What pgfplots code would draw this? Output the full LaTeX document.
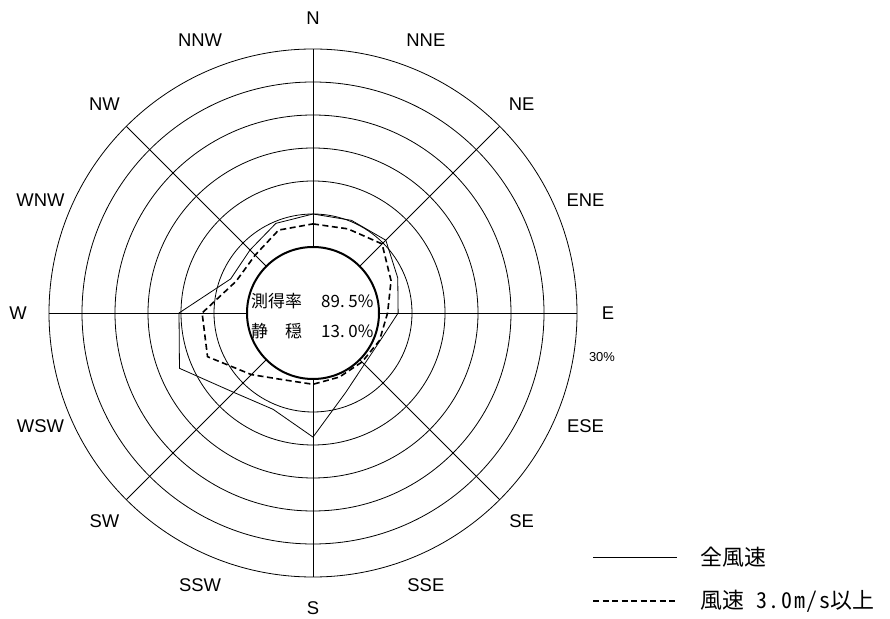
\documentclass[border=0pt]{standalone}
\usepackage{fontspec}
\setmainfont{Liberation Sans}
\newfontfamily\jp{Noto Sans CJK JP}
\newfontfamily\jphalf[CharacterWidth=Half, LetterSpace=8]{Noto Sans CJK JP}
\usepackage{pgfplots}
\pgfplotsset{compat=1.18}
\usepackage{pgfplotstable}

% Wind direction frequencies (%), angle in degrees counter-clockwise from east.
% all  = all wind speeds, fast = wind speed 3.0 m/s and above.
% The first direction is repeated at the end to close the rose.
\pgfplotstableread{
dir ang    all  fast
N   90     5.0  3.5
NNE 67.5   5.2  3.8
NE  45     5.6  4.8
ENE 22.5   3.9  2.8
E   0      2.9  1.3
ESE -22.5  1.0  0.9
SE  -45    1.0  0.5
SSE -67.5  3.0  0.5
S   -90    8.8  0.8
SSW -112.5 5.8  1.0
SW  -135   7.0  3.2
WSW -157.5 11.9 7.3
W   180    10.3 6.8
WNW 157.5  3.5  2.6
NW  135    3.5  2.4
NNW 112.5  4.7  3.6
N   90     5.0  3.5
}\windrose

% radius of the calm circle, in percent units (0 % lies on it)
\newcommand{\calm}{10}

\begin{document}
\begin{tikzpicture}
\begin{axis}[
  scale only axis,
  width=890bp, height=619bp,
  xmin=-47.4242, xmax=87.4242,
  ymin=-46.3636, ymax=47.4242,
  hide axis, clip=false,
]
\path (rel axis cs:0,0) rectangle (rel axis cs:1,1);

% rings every 5 %, outermost = 30 %
\pgfplotsinvokeforeach{99,132,165,198,231,264}{
  \draw[line width=0.8bp] (axis cs:0,0) circle[radius=#1bp];
}
% radial lines
\pgfplotsinvokeforeach{0,45,90,135,180,225,270,315}{
  \draw[line width=0.8bp] ([shift={(#1:66bp)}]axis cs:0,0) -- ([shift={(#1:264bp)}]axis cs:0,0);
}
% calm circle
\draw[line width=2bp] (axis cs:0,0) circle[radius=66bp];

% direction labels
\begin{scope}[every node/.style={font=\fontsize{18.5}{18.5}\selectfont, inner sep=0pt}]
\node at ([shift={(90:295bp)}]axis cs:0,0) {N};
\node at ([shift={(67.5:295bp)}]axis cs:0,0) {NNE};
\node at ([shift={(45:295bp)}]axis cs:0,0) {NE};
\node at ([shift={(22.5:295bp)}]axis cs:0,0) {ENE};
\node at ([shift={(0:295bp)}]axis cs:0,0) {E};
\node at ([shift={(-22.5:295bp)}]axis cs:0,0) {ESE};
\node at ([shift={(-45:295bp)}]axis cs:0,0) {SE};
\node at ([shift={(-67.5:295bp)}]axis cs:0,0) {SSE};
\node at ([shift={(-90:295bp)}]axis cs:0,0) {S};
\node at ([shift={(-112.5:295bp)}]axis cs:0,0) {SSW};
\node at ([shift={(-135:295bp)}]axis cs:0,0) {SW};
\node at ([shift={(-157.5:295bp)}]axis cs:0,0) {WSW};
\node at ([shift={(180:295bp)}]axis cs:0,0) {W};
\node at ([shift={(157.5:295bp)}]axis cs:0,0) {WNW};
\node at ([shift={(135:295bp)}]axis cs:0,0) {NW};
\node at ([shift={(112.5:295bp)}]axis cs:0,0) {NNW};
\end{scope}
\node[font=\fontsize{13}{13}\selectfont, inner sep=0pt] at ([shift={(289bp,-44bp)}]axis cs:0,0) {30\%};

% roses
\addplot[black, line width=0.8bp] table[
  x expr={(\thisrow{all}+\calm)*cos(\thisrow{ang})},
  y expr={(\thisrow{all}+\calm)*sin(\thisrow{ang})}] {\windrose};
\addplot[black, line width=1.6bp, dash pattern=on 6bp off 3.5bp] table[
  x expr={(\thisrow{fast}+\calm)*cos(\thisrow{ang})},
  y expr={(\thisrow{fast}+\calm)*sin(\thisrow{ang})}] {\windrose};

% text in the calm circle
\begin{scope}[every node/.style={font=\jp\fontsize{17}{17}\selectfont, inner sep=0pt, anchor=west}]
\node at ([shift={(-62bp,11.5bp)}]axis cs:0,0) {測得率};
\node at ([shift={(8bp,11.5bp)}]axis cs:0,0) {89.\kern0.22em 5\%};
\node at ([shift={(-62bp,-18.5bp)}]axis cs:0,0) {静　穏};
\node at ([shift={(8bp,-18.5bp)}]axis cs:0,0) {13.\kern0.22em 0\%};
\end{scope}

% key
\draw[line width=0.8bp] ([shift={(280bp,-244bp)}]axis cs:0,0) -- ([shift={(364bp,-244bp)}]axis cs:0,0);
\draw[line width=1.6bp, dash pattern=on 6bp off 3.5bp] ([shift={(280bp,-288bp)}]axis cs:0,0) -- ([shift={(364bp,-288bp)}]axis cs:0,0);
\begin{scope}[every node/.style={font=\jp\fontsize{22}{22}\selectfont, inner sep=0pt, anchor=west}]
\node at ([shift={(387bp,-244bp)}]axis cs:0,0) {全風速};
\node at ([shift={(387bp,-288bp)}]axis cs:0,0) {風速\hspace{12bp}{\jphalf 3.0m/s}以上};
\end{scope}
\end{axis}
\end{tikzpicture}
\end{document}
